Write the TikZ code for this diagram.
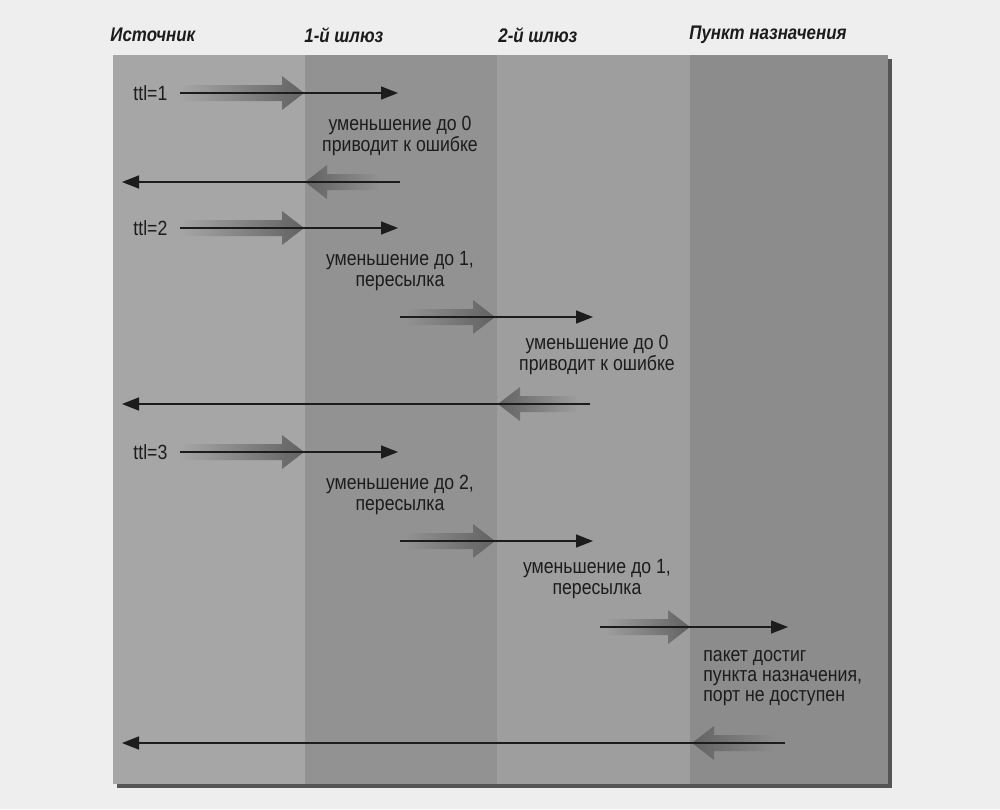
\documentclass[tikz,border=0pt]{standalone}
\usepackage{fontspec}
\setmainfont{Liberation Sans}[FakeStretch=0.86]
\usetikzlibrary{arrows.meta,positioning}

\begin{document}
\begin{tikzpicture}[x=0.2mm,y=-0.2mm,
  hdr/.style={font=\bfseries\itshape\fontsize{11.2}{12}\selectfont,text=ink,anchor=west,inner sep=0pt},
  lbl/.style={font=\fontsize{11.7}{11.6}\selectfont,text=ink,align=center,inner sep=0pt},
  msg/.style={draw=ink,line width=0.9pt,-{Triangle[length=3.4mm,width=2.6mm]}}]
\useasboundingbox (0,0) rectangle (1000,809);

\definecolor{page}{RGB}{238,238,238}
\definecolor{rim}{RGB}{85,85,85}
\definecolor{bandA}{RGB}{166,166,166}
\definecolor{bandB}{RGB}{146,146,146}
\definecolor{bandC}{RGB}{158,158,158}
\definecolor{bandD}{RGB}{140,140,140}
\definecolor{fat}{RGB}{98,98,98}
\definecolor{ink}{RGB}{28,28,28}

\fill[page] (0,0) rectangle (1000,809);

% panel with its shadow and the four columns
\fill[rim] (117,59) rectangle (892,788);
\foreach \xa/\xb/\c in {113/305/bandA,305/497/bandB,497/690/bandC,690/888/bandD}
  \fill[\c] (\xa,55) rectangle (\xb,784);

\foreach \x/\t [count=\i] in {110/Источник,304/1-й шлюз,498/2-й шлюз,689/Пункт назначения}
  \node[hdr] (col\i) at (\x,35) {\t};

\newcommand{\hoparrow}[5]{
  \pgfmathsetmacro{\hb}{#2-22*sign(#2-#1)}
  \shade[left color=#4,right color=#5]
    (#1,#3-8) -- (\hb,#3-8) -- (\hb,#3-17) -- (#2,#3) -- (\hb,#3+17) -- (\hb,#3+8) -- (#1,#3+8) -- cycle;
}

\foreach \sx/\tx/\y/\ca/\cb in {
180/304/93/bandA/fat,380/305/182/fat/bandB,180/304/228/bandA/fat,
405/495/317/bandB/fat,578/498/404/fat/bandC,180/304/452/bandA/fat,
405/495/541/bandB/fat,605/690/627/bandC/fat,775/692/743/fat/bandD}
{
  \hoparrow{\sx}{\tx}{\y}{\ca}{\cb}
}

\foreach \n/\xa/\xb/\y in {
1/180/398/93,2/400/122/182,3/180/398/228,
4/400/593/317,5/590/122/404,6/180/398/452,
7/400/593/541,8/600/788/627,9/785/122/743}{
  \coordinate (p\n) at (\xa,\y);
  \coordinate (q\n) at (\xb,\y);
}

\node[lbl,left=7pt of p1] (ttl1) {ttl=1};
\node[lbl,left=7pt of p3] (ttl2) {ttl=2};
\node[lbl,left=7pt of p6] (ttl3) {ttl=3};

\foreach \n in {1,...,9}
  \draw[msg] (p\n) -- (q\n);

\node[lbl] (note1) at (400,136) {уменьшение до 0\\приводит к ошибке};
\node[lbl] (note2) at (400,271) {уменьшение до 1,\\пересылка};
\node[lbl] (note3) at (597,355) {уменьшение до 0\\приводит к ошибке};
\node[lbl] (note4) at (400,495) {уменьшение до 2,\\пересылка};
\node[lbl] (note5) at (597,579) {уменьшение до 1,\\пересылка};
\node[lbl,align=left,anchor=west] (note6) at (703,678) {пакет достиг\\пункта назначения,\\порт не доступен};

\end{tikzpicture}
\end{document}
